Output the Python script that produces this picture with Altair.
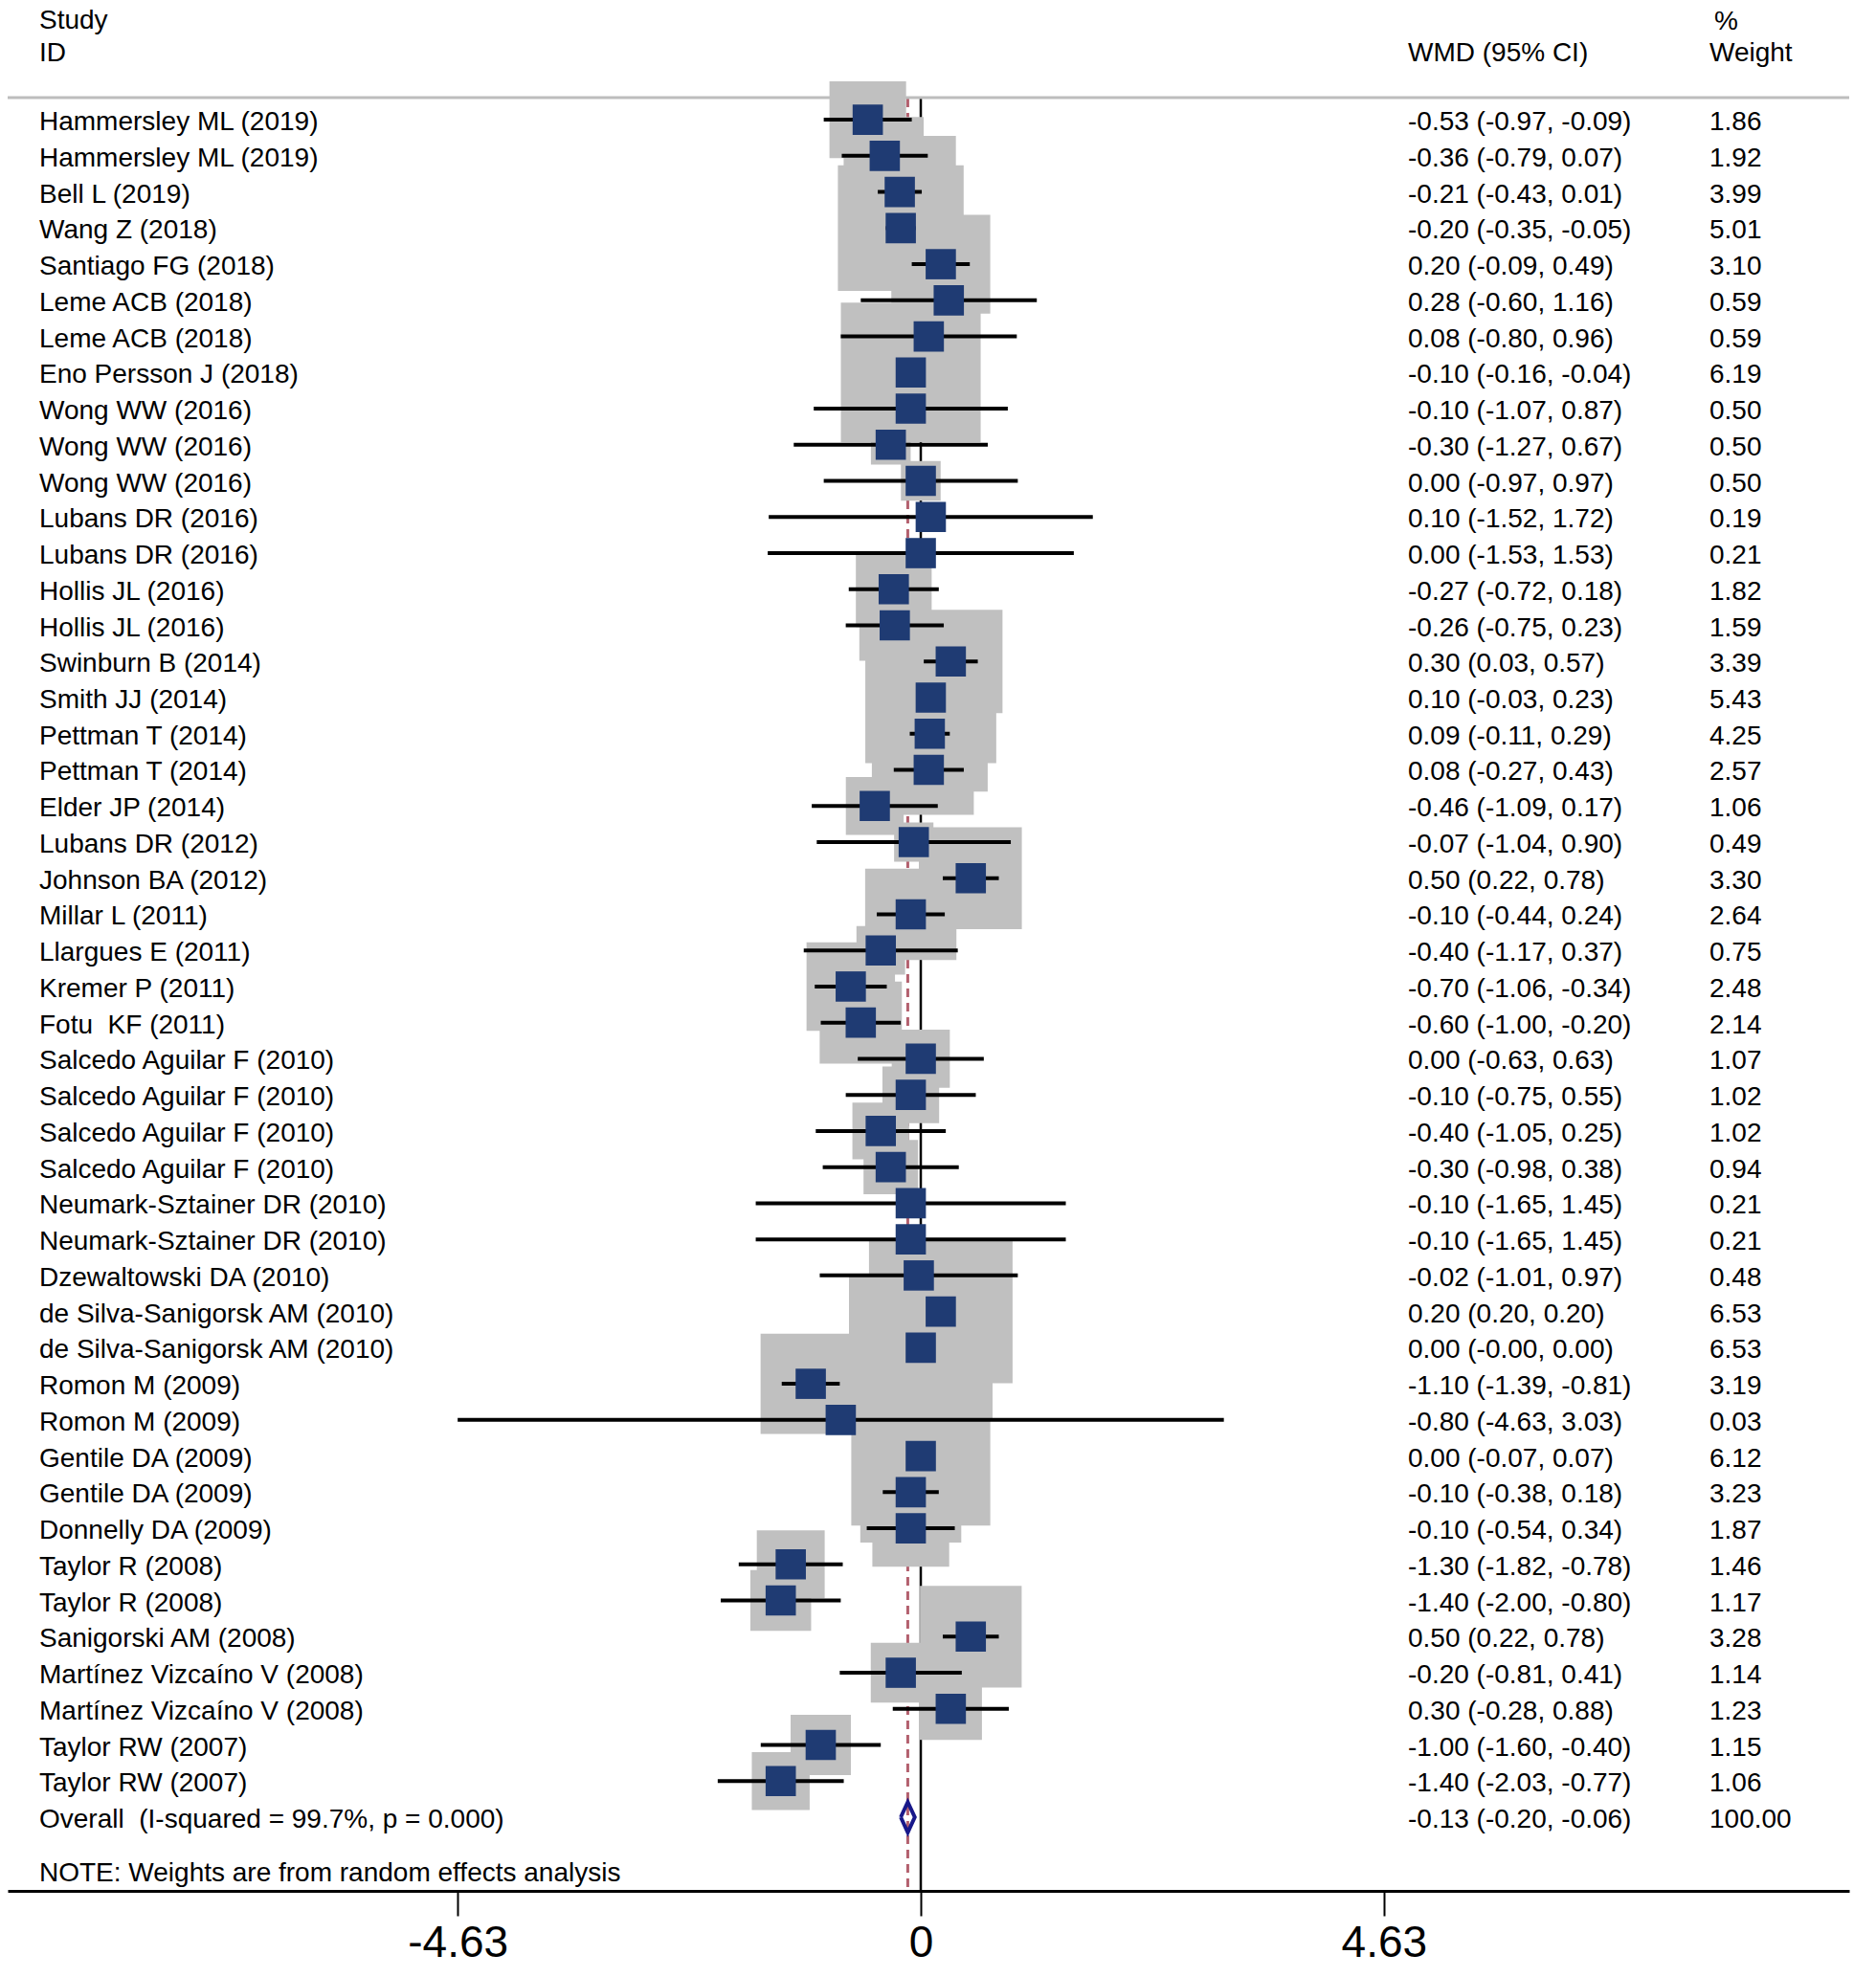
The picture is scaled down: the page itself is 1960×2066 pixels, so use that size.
import altair as alt
import pandas as pd

# ---------------- data ----------------
studies = [
    "Hammersley ML (2019)", "Hammersley ML (2019)", "Bell L (2019)", "Wang Z (2018)",
    "Santiago FG (2018)", "Leme ACB (2018)", "Leme ACB (2018)", "Eno Persson J (2018)",
    "Wong WW (2016)", "Wong WW (2016)", "Wong WW (2016)", "Lubans DR (2016)",
    "Lubans DR (2016)", "Hollis JL (2016)", "Hollis JL (2016)", "Swinburn B (2014)",
    "Smith JJ (2014)", "Pettman T (2014)", "Pettman T (2014)", "Elder JP (2014)",
    "Lubans DR (2012)", "Johnson BA (2012)", "Millar L (2011)", "Llargues E (2011)",
    "Kremer P (2011)", "Fotu \u00a0KF (2011)", "Salcedo Aguilar F (2010)", "Salcedo Aguilar F (2010)",
    "Salcedo Aguilar F (2010)", "Salcedo Aguilar F (2010)", "Neumark-Sztainer DR (2010)",
    "Neumark-Sztainer DR (2010)", "Dzewaltowski DA (2010)", "de Silva-Sanigorsk AM (2010)",
    "de Silva-Sanigorsk AM (2010)", "Romon M (2009)", "Romon M (2009)", "Gentile DA (2009)",
    "Gentile DA (2009)", "Donnelly DA (2009)", "Taylor R (2008)", "Taylor R (2008)",
    "Sanigorski AM (2008)", "Martínez Vizcaíno V (2008)", "Martínez Vizcaíno V (2008)",
    "Taylor RW (2007)", "Taylor RW (2007)",
]
wmd = [
    -0.53, -0.36, -0.21, -0.20, 0.20, 0.28, 0.08, -0.10, -0.10, -0.30, 0.00, 0.10,
    0.00, -0.27, -0.26, 0.30, 0.10, 0.09, 0.08, -0.46, -0.07, 0.50, -0.10, -0.40,
    -0.70, -0.60, 0.00, -0.10, -0.40, -0.30, -0.10, -0.10, -0.02, 0.20, 0.00, -1.10,
    -0.80, 0.00, -0.10, -0.10, -1.30, -1.40, 0.50, -0.20, 0.30, -1.00, -1.40,
]
ci_low = [
    -0.97, -0.79, -0.43, -0.35, -0.09, -0.60, -0.80, -0.16, -1.07, -1.27, -0.97, -1.52,
    -1.53, -0.72, -0.75, 0.03, -0.03, -0.11, -0.27, -1.09, -1.04, 0.22, -0.44, -1.17,
    -1.06, -1.00, -0.63, -0.75, -1.05, -0.98, -1.65, -1.65, -1.01, 0.20, -0.0, -1.39,
    -4.63, -0.07, -0.38, -0.54, -1.82, -2.00, 0.22, -0.81, -0.28, -1.60, -2.03,
]
ci_high = [
    -0.09, 0.07, 0.01, -0.05, 0.49, 1.16, 0.96, -0.04, 0.87, 0.67, 0.97, 1.72,
    1.53, 0.18, 0.23, 0.57, 0.23, 0.29, 0.43, 0.17, 0.90, 0.78, 0.24, 0.37,
    -0.34, -0.20, 0.63, 0.55, 0.25, 0.38, 1.45, 1.45, 0.97, 0.20, 0.00, -0.81,
    3.03, 0.07, 0.18, 0.34, -0.78, -0.80, 0.78, 0.41, 0.88, -0.40, -0.77,
]
weights = [
    1.86, 1.92, 3.99, 5.01, 3.10, 0.59, 0.59, 6.19, 0.50, 0.50, 0.50, 0.19,
    0.21, 1.82, 1.59, 3.39, 5.43, 4.25, 2.57, 1.06, 0.49, 3.30, 2.64, 0.75,
    2.48, 2.14, 1.07, 1.02, 1.02, 0.94, 0.21, 0.21, 0.48, 6.53, 6.53, 3.19,
    0.03, 6.12, 3.23, 1.87, 1.46, 1.17, 3.28, 1.14, 1.23, 1.15, 1.06,
]

overall_label = "Overall \u00a0(I-squared = 99.7%, p = 0.000)"
overall_wmd = -0.13
overall_low = -0.20
overall_high = -0.06
overall_weight = 100.00

x_ticks = [-4.63, 0, 4.63]
note_text = "NOTE: Weights are from random effects analysis"

# ---------------- tables ----------------
n = len(studies)
df = pd.DataFrame({"study": studies, "wmd": wmd, "lo": ci_low, "hi": ci_high, "w": weights})
df["row"] = list(range(n))

def ci_fmt(e, l, h):
    return f"{e:.2f} ({l:.2f}, {h:.2f})"

txt = pd.DataFrame({
    "row": list(range(n)) + [n],
    "study": studies + [overall_label],
    "ci_text": [ci_fmt(e, l, h) for e, l, h in zip(wmd, ci_low, ci_high)]
               + [ci_fmt(overall_wmd, overall_low, overall_high)],
    "w_text": [f"{w:.2f}" for w in weights] + [f"{overall_weight:.2f}"],
})

dh = 0.42
diamond = pd.DataFrame({
    "x": [overall_low, overall_wmd, overall_high, overall_wmd, overall_low],
    "row": [n, n - dh, n, n + dh, n],
    "o": [0, 1, 2, 3, 4],
})

# ---------------- scales ----------------
W, H = 1924, 1968
FONT = "Liberation Sans"
FS = 28
DY = 3
NAVY = "#1f3b73"
GRAY = "#c0c0c0"

x_scale = alt.Scale(domain=[-9.129, 9.282], nice=False, zero=False)
y_scale = alt.Scale(domain=[-3.103, 49.04], nice=False, zero=False, reverse=True)
x_axis = alt.Axis(
    values=x_ticks, title=None, grid=False,
    domain=True, domainColor="black", domainWidth=3,
    ticks=True, tickColor="black", tickWidth=2, tickSize=26,
    labelFont=FONT, labelFontSize=46, labelColor="black",
    labelBaseline="alphabetic", labelPadding=42, labelFlush=False, labelOverlap=False,
    labelExpr="datum.value < 0 ? '-' + format(-datum.value, '.2f') : (datum.value == 0 ? '0' : format(datum.value, '.2f'))",
)

def X(field):
    return alt.X(field, type="quantitative", scale=x_scale, axis=x_axis)

Y = alt.Y("row:Q", scale=y_scale, axis=None)

# ---------------- layers ----------------
zero_line = alt.Chart(pd.DataFrame({"x": [0]})).mark_rule(color="black", strokeWidth=2.5).encode(
    x=X("x"), y=alt.value(95), y2=alt.value(H)
)
overall_line = alt.Chart(pd.DataFrame({"x": [overall_wmd]})).mark_rule(
    color="#b3606e", strokeWidth=3, strokeDash=[9, 6]
).encode(x=X("x"), y=alt.value(95), y2=alt.value(H))

header_line = alt.Chart(pd.DataFrame({"a": [0]})).mark_rule(color="#bdbdbd", strokeWidth=3).encode(
    x=alt.value(0), x2=alt.value(W), y=alt.value(94)
)

boxes = alt.Chart(df).mark_square(color=GRAY, opacity=1, strokeWidth=0).encode(
    x=X("wmd"), y=Y,
    size=alt.Size("w:Q", scale=alt.Scale(domain=[0, 10], range=[0, 34460]), legend=None),
)
ci_lines = alt.Chart(df).mark_rule(color="black", strokeWidth=4).encode(
    x=X("lo"), x2="hi", y=Y
)
points = alt.Chart(df).mark_square(color=NAVY, opacity=1, size=1000).encode(x=X("wmd"), y=Y)

diamond_layer = alt.Chart(diamond).mark_line(color="#18188a", strokeWidth=4).encode(
    x=X("x"), y=Y, order="o:O"
)

def col_text(field, xpix):
    return alt.Chart(txt).mark_text(
        align="left", baseline="middle", font=FONT, fontSize=FS, color="black", dy=DY
    ).encode(x=alt.value(xpix), y=Y, text=f"{field}:N")

study_text = col_text("study", 33)
ci_text = col_text("ci_text", 1463)
w_text = col_text("w_text", 1778)

header_df = pd.DataFrame({"t": ["Study", "ID", "WMD (95% CI)", "%", "Weight"]})

def header(label, xpix, ypix):
    return alt.Chart(header_df[header_df.t == label]).mark_text(
        align="left", baseline="middle", font=FONT, fontSize=FS, color="black", dy=DY
    ).encode(x=alt.value(xpix), y=alt.value(ypix), text="t:N")

headers = (header("Study", 33, 11) + header("ID", 33, 45) + header("WMD (95% CI)", 1463, 45)
           + header("%", 1783, 12) + header("Weight", 1778, 45))

note = alt.Chart(pd.DataFrame({"t": [note_text]})).mark_text(
    align="left", baseline="middle", font=FONT, fontSize=FS, color="black", dy=DY
).encode(x=alt.value(33), y=alt.value(1947), text="t:N")

chart = alt.layer(
    zero_line, overall_line, header_line, boxes, ci_lines, points, diamond_layer,
    study_text, ci_text, w_text, headers, note,
).properties(
    width=W, height=H,
    autosize=alt.AutoSizeParams(type="none"),
    padding={"left": 0, "top": 0, "right": 20, "bottom": 78},
    background="white",
).configure_view(strokeWidth=0)

chart.save("out.html", embed_options={"renderer": "svg", "actions": False})
